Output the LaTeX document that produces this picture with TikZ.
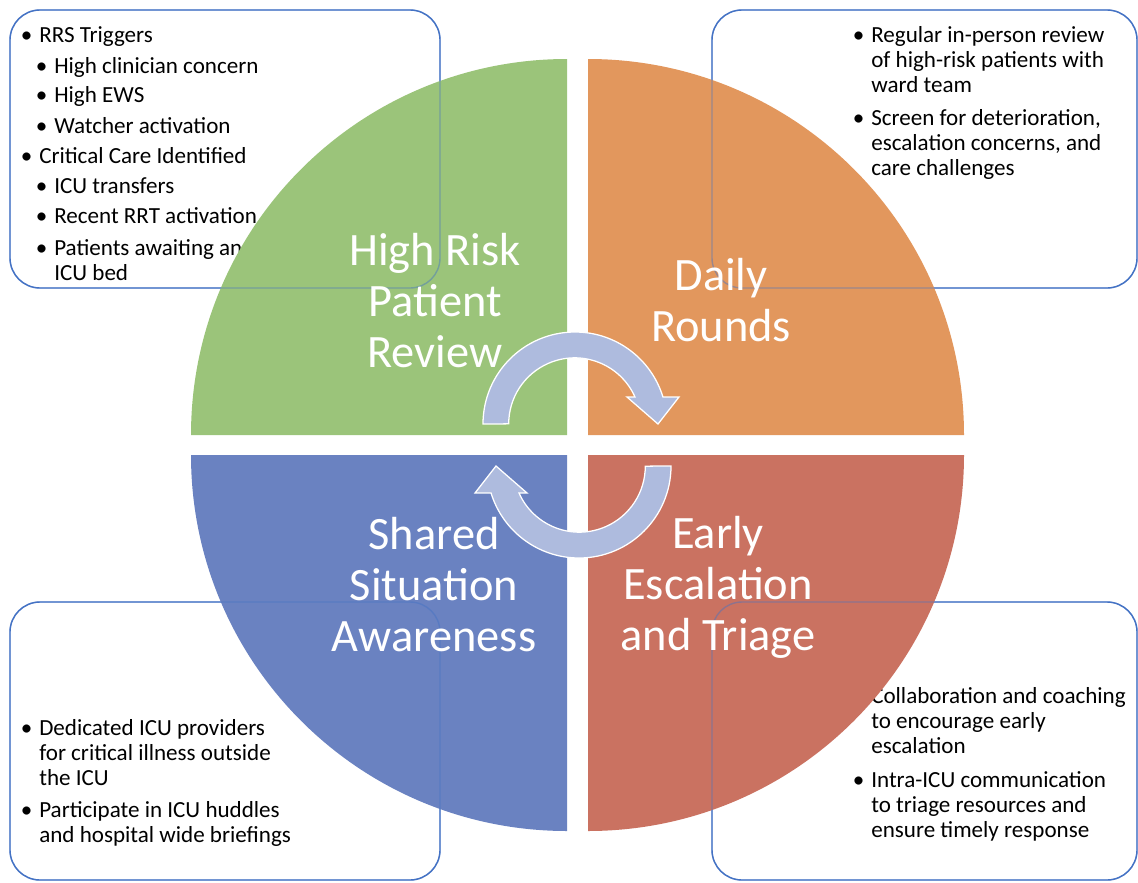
\documentclass[tikz,border=0pt]{standalone}
\usepackage{fontspec}
\setmainfont{Carlito}
\definecolor{qgreen}{HTML}{9BC47A}
\definecolor{qorange}{HTML}{E2975D}
\definecolor{qblue}{HTML}{6A82C1}
\definecolor{qred}{HTML}{CA7261}
\definecolor{cycblue}{HTML}{AEBBDE}
\definecolor{boxblue}{HTML}{4472C4}
\newcommand{\bul}[1]{\llap{\textbullet\hspace{5pt}}\begin{tabular}[t]{@{}l@{}}#1\end{tabular}}
\newcommand{\ttl}[1]{\begin{tabular}[t]{@{}c@{}}#1\end{tabular}}
\begin{document}
\begin{tikzpicture}[x=0.025cm, y=-0.025cm,
	note/.style={anchor=base west, inner sep=0pt, font=\fontsize{16.4}{18}\selectfont},
	title/.style={anchor=base, inner sep=0pt, text=white, font=\fontsize{33}{36.3}\selectfont},
	frame/.style={draw=boxblue, line width=1pt, rounded corners=0.75cm},
	cyc/.style={fill=cycblue, draw=white, line width=0.9pt}]
	\useasboundingbox (0,0) rectangle (1138,882);
	% bullet lists, partly hidden by the quarters
	\node[note] (rrs) at (39,42) {\bul{RRS Triggers}};
	\node[note] (concern) at (54,73) {\bul{High clinician concern}};
	\node[note] (ews) at (54,102) {\bul{High EWS}};
	\node[note] (watcher) at (54,133) {\bul{Watcher activation}};
	\node[note] (critical) at (39,163) {\bul{Critical Care Identified}};
	\node[note] (transfers) at (54,193) {\bul{ICU transfers}};
	\node[note] (rrt) at (54,223) {\bul{Recent RRT activation}};
	\node[note] (awaiting) at (54,255) {\bul{Patients awaiting an\\ICU bed}};
	\node[note] (review) at (871,42) {\bul{Regular in-person review\\of high-risk patients with\\ward team}};
	\node[note] (screen) at (871,125) {\bul{Screen for deterioration,\\escalation concerns, and\\care challenges}};
	\node[note] (providers) at (39,735) {\bul{Dedicated ICU providers\\for critical illness outside\\the ICU}};
	\node[note] (huddles) at (39,817) {\bul{Participate in ICU huddles\\and hospital wide briefings}};
	\node[note] (coaching) at (871,703) {\bul{Collaboration and coaching\\to encourage early\\escalation}};
	\node[note] (intra) at (871,787) {\bul{Intra-ICU communication\\to triage resources and\\ensure timely response}};
	\draw[frame] (10,10) rectangle (440,288);
	\draw[frame] (712,10) rectangle (1137,288);
	\draw[frame] (10,602) rectangle (440,880);
	\draw[frame] (712,602) rectangle (1137,880);
	% four quarters
	\fill[qgreen] (567,435) -- (191,435) arc[start angle=180, end angle=270, radius=376] -- cycle;
	\fill[qorange] (588,435) -- (588,59) arc[start angle=270, end angle=360, radius=376] -- cycle;
	\fill[qred] (588,455) -- (964,455) arc[start angle=0, end angle=90, radius=376] -- cycle;
	\fill[qblue] (567,455) -- (567,831) arc[start angle=90, end angle=180, radius=376] -- cycle;
	\begin{scope}[draw opacity=0.45]
		\draw[frame] (10,10) rectangle (440,288);
		\draw[frame] (712,10) rectangle (1137,288);
		\draw[frame] (10,602) rectangle (440,880);
		\draw[frame] (712,602) rectangle (1137,880);
	\end{scope}
	\node[title] (hrpr) at (435,265) {\ttl{High Risk\\Patient\\Review}};
	\node[title] (rounds) at (721,290) {\ttl{Daily\\Rounds}};
	\node[title] (triage) at (718,548) {\ttl{Early\\Escalation\\and Triage}};
	\node[title] (ssa) at (434,549) {\ttl{Shared\\Situation\\Awareness}};
	% circular arrows
	\draw[cyc] (483,424) arc[start angle=180, end angle=343, radius=92] -- (679,397) -- (658,424) -- (627,397) -- (635,397) arc[start angle=336, end angle=180, radius=66] -- cycle;
	\begin{scope}[rotate around={180:(577,445)}]
		\draw[cyc] (483,424) arc[start angle=180, end angle=343, radius=92] -- (679,397) -- (658,424) -- (627,397) -- (635,397) arc[start angle=336, end angle=180, radius=66] -- cycle;
	\end{scope}
\end{tikzpicture}
\end{document}
